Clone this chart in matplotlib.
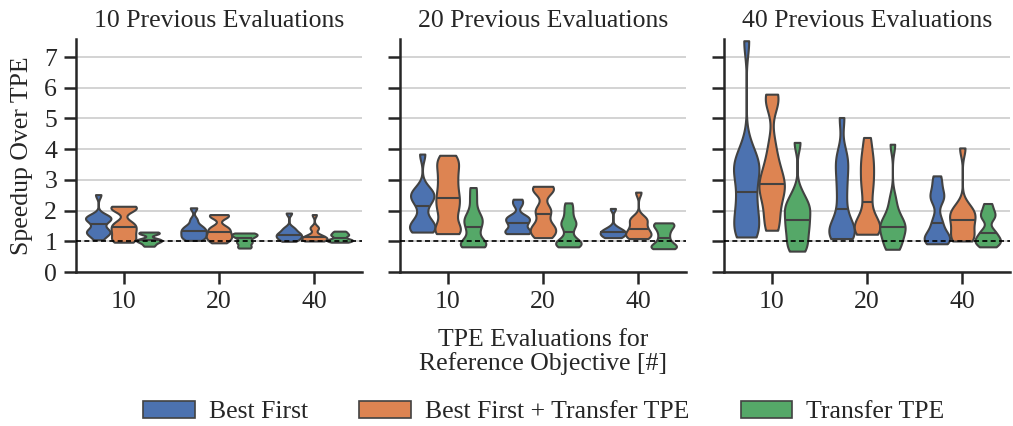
import numpy as np
import matplotlib
matplotlib.use("Agg")
import matplotlib.pyplot as plt
from matplotlib.patches import Patch

plt.rcParams['font.family'] = ['Liberation Serif', 'DejaVu Serif']

panel_titles = ["10 Previous Evaluations", "20 Previous Evaluations", "40 Previous Evaluations"]
ref_evals = ["10", "20", "40"]
methods = ["Best First", "Best First + Transfer TPE", "Transfer TPE"]
colors = ["#4C72B0", "#DD8452", "#55A868"]

# Speedup samples: p<previous evals>_<method>_r<reference evals>
p10_bf_r10 = [1.05, 1.2, 1.25, 1.3, 1.35, 1.4, 1.57, 1.68, 1.72, 1.76, 1.8, 1.85, 2.52]
p10_bft_r10 = [0.97, 1.02, 1.1, 1.2, 1.3, 1.38, 1.47, 1.55, 1.62, 2.02, 2.08, 2.12, 2.14]
p10_t_r10 = [0.84, 0.92, 0.99, 1.01, 1.05, 1.08, 1.24, 1.27, 1.3]
p10_bf_r20 = [1.03, 1.1, 1.15, 1.2, 1.28, 1.33, 1.38, 1.45, 1.52, 1.71, 2.09]
p10_bft_r20 = [0.95, 1.02, 1.1, 1.15, 1.2, 1.28, 1.35, 1.42, 1.48, 1.8, 1.84, 1.87]
p10_t_r20 = [0.78, 0.85, 0.95, 1.0, 1.1, 1.16, 1.2, 1.24, 1.27]
p10_bf_r40 = [1.0, 1.05, 1.1, 1.14, 1.18, 1.22, 1.25, 1.3, 1.38, 1.45, 1.92]
p10_bft_r40 = [1.01, 1.03, 1.05, 1.07, 1.1, 1.14, 1.17, 1.2, 1.42, 1.45, 1.87]
p10_t_r40 = [0.97, 1.0, 1.03, 1.05, 1.08, 1.15, 1.2, 1.23, 1.28, 1.33]

p20_bf_r10 = [1.3, 1.35, 1.42, 1.5, 1.6, 1.75, 2.14, 2.35, 2.45, 2.5, 2.6, 2.75, 3.84]
p20_bft_r10 = [1.25, 1.3, 1.4, 1.5, 1.85, 2.0, 2.2, 2.35, 2.5, 2.7, 2.9, 3.1, 3.3, 3.5, 3.65, 3.8]
p20_t_r10 = [0.82, 0.85, 0.9, 0.95, 1.0, 1.3, 1.45, 1.62, 1.72, 1.8, 2.05, 2.4, 2.75]
p20_bf_r20 = [1.25, 1.28, 1.32, 1.38, 1.55, 1.61, 1.72, 1.77, 1.82, 2.2, 2.37]
p20_bft_r20 = [1.12, 1.2, 1.3, 1.4, 1.47, 1.55, 1.88, 2.0, 2.1, 2.6, 2.7, 2.75, 2.79]
p20_t_r20 = [0.82, 0.85, 0.9, 0.95, 1.0, 1.05, 1.3, 1.5, 1.58, 1.65, 1.85, 2.05, 2.25]
p20_bf_r40 = [1.12, 1.15, 1.2, 1.25, 1.3, 1.33, 1.36, 1.45, 2.07]
p20_bft_r40 = [1.09, 1.12, 1.2, 1.25, 1.3, 1.41, 1.5, 1.65, 1.72, 1.78, 2.6]
p20_t_r40 = [0.76, 0.8, 0.85, 0.95, 1.12, 1.3, 1.45, 1.55, 1.6]

p40_bf_r10 = [1.14, 1.2, 1.4, 1.6, 1.8, 2.1, 2.4, 2.59, 3.0, 3.3, 3.4, 3.5, 3.7, 4.1, 7.53]
p40_bft_r10 = [1.36, 1.5, 1.8, 2.1, 2.4, 2.6, 2.75, 2.86, 2.9, 3.2, 3.4, 3.7, 4.2, 5.5, 5.65, 5.79]
p40_t_r10 = [0.68, 0.8, 1.0, 1.2, 1.4, 1.55, 1.68, 1.9, 2.05, 2.15, 2.3, 2.6, 4.22]
p40_bf_r20 = [1.09, 1.15, 1.25, 1.35, 1.45, 1.6, 2.04, 2.5, 2.9, 3.3, 3.6, 3.9, 5.03]
p40_bft_r20 = [1.23, 1.3, 1.4, 1.5, 1.6, 1.8, 2.28, 2.7, 3.0, 3.3, 3.6, 3.9, 4.38]
p40_t_r20 = [0.74, 0.85, 1.0, 1.2, 1.35, 1.45, 1.51, 1.6, 1.75, 2.0, 2.4, 4.16]
p40_bf_r40 = [0.92, 1.0, 1.05, 1.1, 1.15, 1.25, 1.58, 1.7, 2.35, 2.45, 2.55, 2.9, 3.13]
p40_bft_r40 = [1.01, 1.05, 1.15, 1.3, 1.5, 1.68, 1.8, 1.9, 2.0, 2.15, 4.04]
p40_t_r40 = [0.82, 0.9, 1.0, 1.05, 1.1, 1.27, 1.35, 1.75, 1.85, 2.0, 2.23]

panels = [
    [[p10_bf_r10, p10_bft_r10, p10_t_r10],
     [p10_bf_r20, p10_bft_r20, p10_t_r20],
     [p10_bf_r40, p10_bft_r40, p10_t_r40]],
    [[p20_bf_r10, p20_bft_r10, p20_t_r10],
     [p20_bf_r20, p20_bft_r20, p20_t_r20],
     [p20_bf_r40, p20_bft_r40, p20_t_r40]],
    [[p40_bf_r10, p40_bft_r10, p40_t_r10],
     [p40_bf_r20, p40_bft_r20, p40_t_r20],
     [p40_bf_r40, p40_bft_r40, p40_t_r40]],
]

EDGE = "#424242"
FS = 18.5
BW_ADJ = 0.5


def kde_profile(vals, bw_adjust=BW_ADJ, n=300):
    v = np.asarray(vals, float)
    bw = v.std(ddof=1) * len(v) ** (-0.2) * bw_adjust
    y = np.linspace(v.min(), v.max(), n)
    d = np.exp(-0.5 * ((y[:, None] - v[None, :]) / bw) ** 2).sum(1)
    return y, d / d.max()


fig, axes = plt.subplots(1, 3, figsize=(10.13, 4.26), dpi=100, sharey=True)
fig.subplots_adjust(left=0.075, right=0.997, top=0.908, bottom=0.3615, wspace=0.133)

sub_w = 0.8 / len(methods)
hw = sub_w / 2
for pi, ax in enumerate(axes):
    for ci, cat in enumerate(ref_evals):
        for hi, m in enumerate(methods):
            vals = panels[pi][ci][hi]
            c = ci - 0.4 + sub_w * (hi + 0.5)
            y, d = kde_profile(vals)
            ax.fill_betweenx(y, c - hw * d, c + hw * d, facecolor=colors[hi],
                             edgecolor=EDGE, linewidth=1.5, zorder=2)
            med = np.median(vals)
            dm = np.interp(med, y, d) * hw
            ax.plot([c - dm, c + dm], [med, med], color=EDGE, lw=1.5, zorder=3,
                    solid_capstyle='butt')
    ax.axhline(1, color='black', ls=(0, (3, 2)), lw=1.2, zorder=4)
    ax.set_xlim(-0.5, 2.5)
    ax.set_ylim(0, 7.58)
    ax.set_yticks(range(8))
    ax.set_xticks(range(3))
    ax.set_xticklabels(ref_evals)
    ax.yaxis.grid(True, color="#cccccc", lw=1.2)
    ax.set_axisbelow(True)
    for s in ["top", "right"]:
        ax.spines[s].set_visible(False)
    for s in ["left", "bottom"]:
        ax.spines[s].set_linewidth(1.8)
        ax.spines[s].set_color("#262626")
    ax.tick_params(length=8.5, width=1.8, color="#262626", labelsize=FS, pad=5,
                   labelcolor="#262626")
    ax.set_title(panel_titles[pi], fontsize=FS, color="#262626", pad=9)

axes[0].set_ylabel("Speedup Over TPE", fontsize=FS, color="#262626", labelpad=8)
axes[1].set_xlabel("TPE Evaluations for\nReference Objective [#]", fontsize=FS,
                   color="#262626", labelpad=12, linespacing=1.05)

handles = [Patch(facecolor=colors[i], edgecolor=EDGE, linewidth=1.2, label=methods[i])
           for i in range(3)]
fig.legend(handles=handles, loc="center", bbox_to_anchor=(544 / 1013, 1 - 412 / 426),
           ncol=3, frameon=False, fontsize=FS, handlelength=2.0, handleheight=0.7,
           handletextpad=0.55, columnspacing=2.0, labelcolor="#262626")

fig.savefig("out.png", dpi=100)
